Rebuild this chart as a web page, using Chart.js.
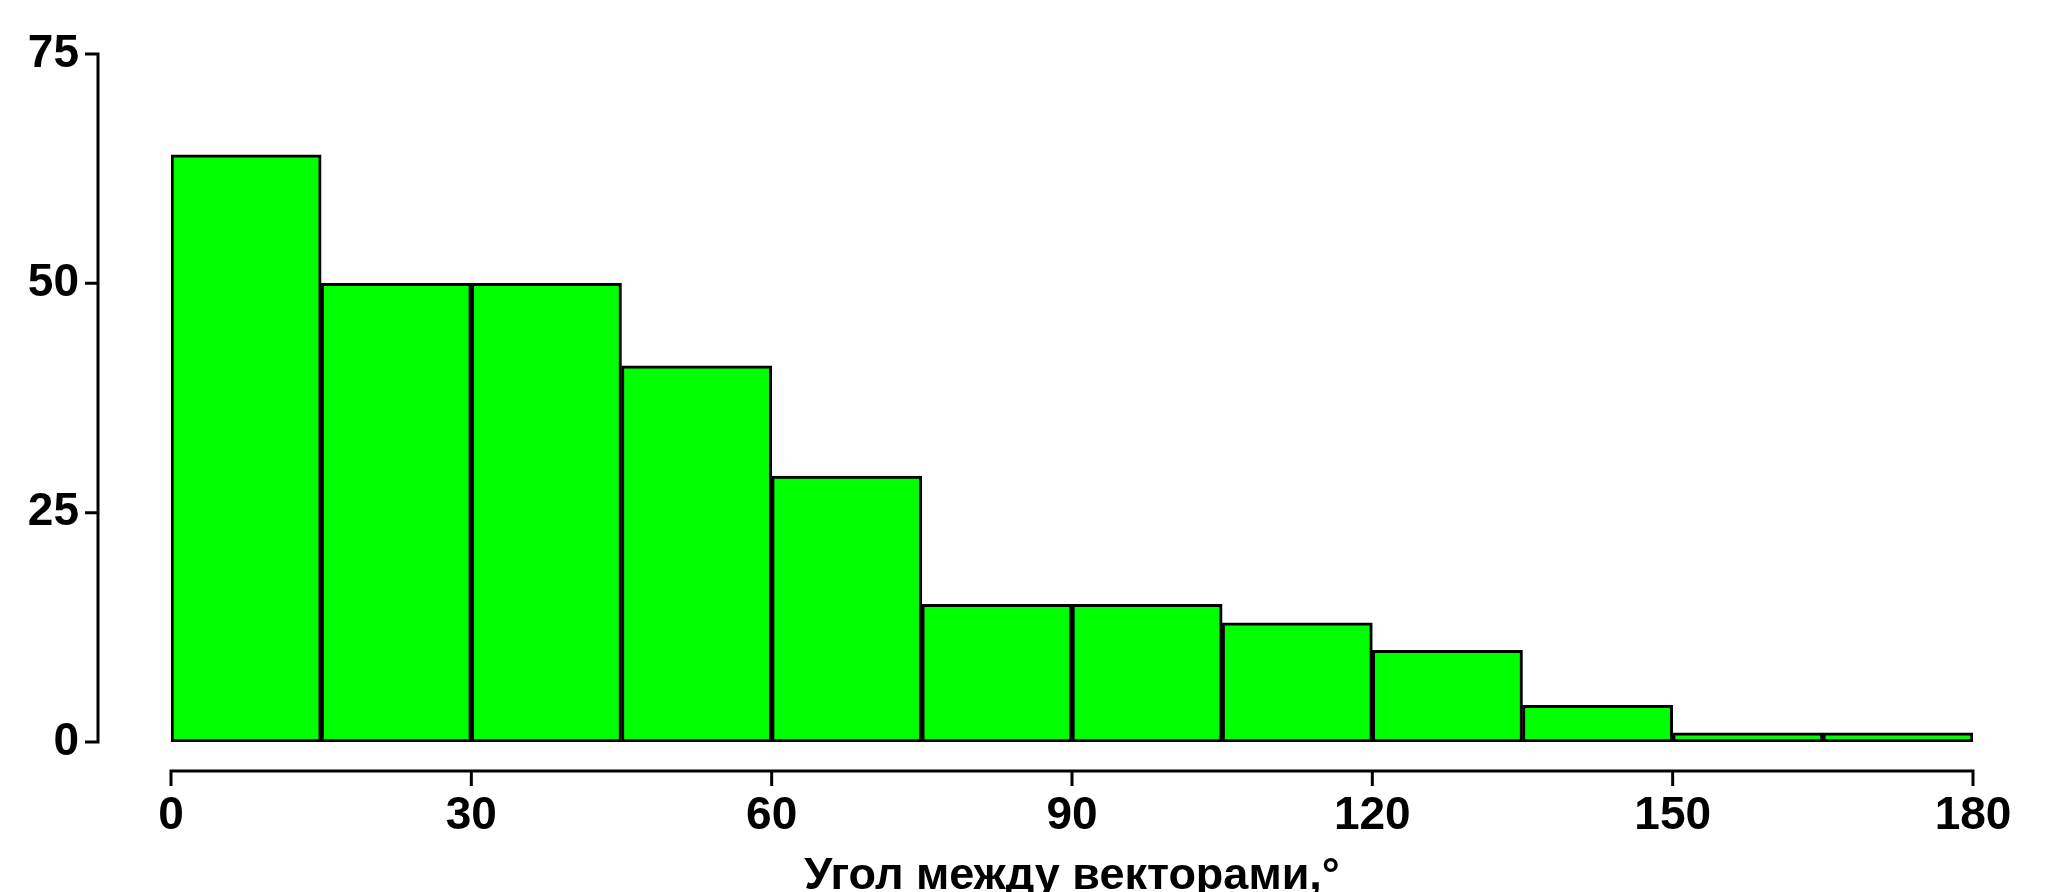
<!DOCTYPE html>
<html>
<head>
<meta charset="utf-8">
<script src="https://cdn.jsdelivr.net/npm/chart.js@4"></script>
<style>
  html, body { margin: 0; padding: 0; background: #ffffff; }
  #wrap { width: 2067px; height: 892px; }
</style>
</head>
<body>
<div id="wrap"><canvas id="c" width="2067" height="892"></canvas></div>
<script>
// Histogram bins (degrees) and counts
const binStarts = [0, 15, 30, 45, 60, 75, 90, 105, 120, 135, 150, 165];
const binWidth = 15;
const counts = [64, 50, 50, 41, 29, 15, 15, 13, 10, 4, 1, 1];
const xTicks = [0, 30, 60, 90, 120, 150, 180];
const yTicks = [0, 25, 50, 75];
const xTitle = 'Угол между векторами,°';

const FONT = '"Liberation Sans", Arial, sans-serif';

const points = binStarts.map((s, i) => ({ x: s + binWidth / 2, y: counts[i] }));

const axesPlugin = {
  id: 'rAxes',
  afterDraw(chart) {
    const ctx = chart.ctx;
    const xs = chart.scales.x, ys = chart.scales.y;
    const area = chart.chartArea;
    ctx.save();
    ctx.strokeStyle = '#000';
    ctx.lineWidth = 3;
    ctx.lineCap = 'butt';
    // x axis (detached below the plot, R style)
    const yLine = area.bottom + 29;
    const x0 = xs.getPixelForValue(xTicks[0]);
    const x1 = xs.getPixelForValue(xTicks[xTicks.length - 1]);
    ctx.beginPath();
    ctx.moveTo(x0 - 1.5, yLine);
    ctx.lineTo(x1 + 1.5, yLine);
    xTicks.forEach(v => {
      const px = xs.getPixelForValue(v);
      ctx.moveTo(px, yLine);
      ctx.lineTo(px, yLine + 15);
    });
    ctx.stroke();
    // y axis (detached left of the plot)
    const xLine = area.left - 73;
    const yb = ys.getPixelForValue(yTicks[0]);
    const yt = ys.getPixelForValue(yTicks[yTicks.length - 1]);
    ctx.beginPath();
    ctx.moveTo(xLine, yb + 1.5);
    ctx.lineTo(xLine, yt - 1.5);
    yTicks.forEach(v => {
      const py = ys.getPixelForValue(v);
      ctx.moveTo(xLine, py);
      ctx.lineTo(xLine - 13, py);
    });
    ctx.stroke();
    ctx.restore();
  }
};

new Chart(document.getElementById('c'), {
  type: 'bar',
  data: {
    datasets: [{
      data: points,
      backgroundColor: '#00ff00',
      borderColor: '#000000',
      borderWidth: 3,
      borderSkipped: false,
      barPercentage: 1,
      categoryPercentage: 1,
      grouped: false
    }]
  },
  options: {
    responsive: false,
    animation: false,
    devicePixelRatio: 1,
    layout: { padding: { left: 0, top: 54, right: 94, bottom: 0 } },
    plugins: { legend: { display: false }, tooltip: { enabled: false } },
    scales: {
      x: {
        type: 'linear',
        offset: false,
        min: 0, max: 180,
        afterBuildTicks(scale) { scale.ticks = xTicks.map(v => ({ value: v })); },
        afterFit(scale) {
          scale.height = 150;
          scale.paddingLeft = 0; scale.paddingRight = 0;
        },
        grid: { display: false, drawTicks: false, offset: false },
        border: { display: false },
        ticks: {
          autoSkip: false, maxRotation: 0, padding: 47,
          color: '#000', font: { family: FONT, size: 46, weight: 'bold' }
        },
        title: {
          display: true, text: xTitle, color: '#000',
          font: { family: FONT, size: 45, weight: 'bold', lineHeight: 0.7 },
          padding: { top: 0, bottom: 0 }
        }
      },
      y: {
        min: 0, max: 75,
        afterBuildTicks(scale) { scale.ticks = yTicks.map(v => ({ value: v })); },
        afterFit(scale) {
          scale.width = 171;
          scale.paddingTop = 0; scale.paddingBottom = 0;
        },
        grid: { display: false, drawTicks: false },
        border: { display: false },
        ticks: {
          padding: 92,
          color: '#000', font: { family: FONT, size: 46, weight: 'bold' }
        }
      }
    }
  },
  plugins: [axesPlugin]
});
</script>
</body>
</html>
